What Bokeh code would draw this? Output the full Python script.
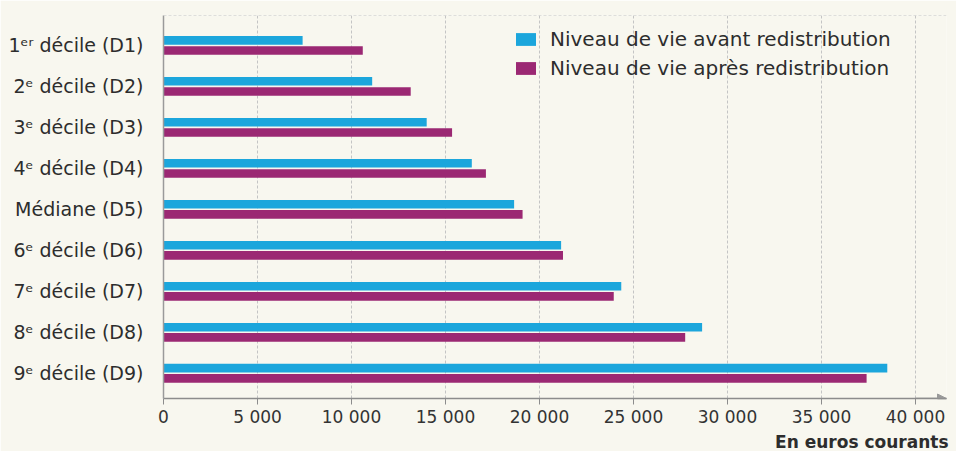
from bokeh.plotting import figure
from bokeh.models import (Range1d, FixedTicker, ColumnDataSource, Span, Arrow,
                          NormalHead, Title)
from bokeh.transform import dodge
from bokeh.embed import file_html
from bokeh.resources import INLINE

# ---- data -------------------------------------------------------------
categories = ["1ᵉʳ décile (D1)", "2ᵉ décile (D2)", "3ᵉ décile (D3)",
              "4ᵉ décile (D4)", "Médiane (D5)", "6ᵉ décile (D6)",
              "7ᵉ décile (D7)", "8ᵉ décile (D8)", "9ᵉ décile (D9)"]
before = [7400, 11100, 14000, 16400, 18650, 21150, 24350, 28650, 38500]
after = [10600, 13150, 15350, 17150, 19100, 21250, 23950, 27750, 37400]
series_names = ["Niveau de vie avant redistribution",
                "Niveau de vie après redistribution"]
tick_values = [0, 5000, 10000, 15000, 20000, 25000, 30000, 35000, 40000]
tick_labels = ["0", "5 000", "10 000", "15 000", "20 000", "25 000",
               "30 000", "35 000", "40 000"]
axis_title = "En euros courants"

# ---- style ------------------------------------------------------------
BG = "#f8f7ef"
BLUE = "#1ca6dc"
PURPLE = "#9b2873"
FONT = "DejaVu Sans"

pos = list(range(len(categories)))
src = ColumnDataSource(dict(y=pos, before=before, after=after))

p = figure(width=956, height=451, output_backend="svg", toolbar_location=None,
           x_range=Range1d(0, 41650), y_range=Range1d(8.616, -0.73),
           min_border_left=163, min_border_right=10, min_border_top=15,
           min_border_bottom=52, background_fill_color=BG,
           border_fill_color=BG, outline_line_color=None)

p.hbar(y=dodge("y", -0.124, range=p.y_range), left=0, right="before",
       height=0.21, source=src, fill_color=BLUE, line_color=None,
       legend_label=series_names[0])
p.hbar(y=dodge("y", 0.124, range=p.y_range), left=0, right="after",
       height=0.21, source=src, fill_color=PURPLE, line_color=None,
       legend_label=series_names[1])

# x axis
xa = p.xaxis[0]
xa.ticker = FixedTicker(ticks=tick_values)
xa.major_label_overrides = {v: l for v, l in zip(tick_values, tick_labels)}
xa.major_label_text_font = FONT
xa.major_label_text_font_size = "17px"
xa.major_label_text_color = "#333333"
xa.axis_line_color = "#8c8c8c"
xa.axis_line_width = 1.5
xa.major_tick_line_color = "#8c8c8c"
xa.major_tick_in = 0
xa.major_tick_out = 6
xa.minor_tick_line_color = None
xa.major_label_standoff = 2

# axis title (below, right aligned)
p.add_layout(Title(text=axis_title, align="right", text_font=FONT,
                   text_font_style="bold", text_font_size="17px",
                   text_color="#2d2d2d", standoff=0, offset=-2), "below")

# y axis
ya = p.yaxis[0]
ya.ticker = FixedTicker(ticks=pos)
ya.major_label_overrides = {i: c for i, c in zip(pos, categories)}
ya.major_label_text_font = FONT
ya.major_label_text_font_size = "19px"
ya.major_label_text_color = "#2d2d2d"
ya.axis_line_color = "#9a9a9a"
ya.axis_line_width = 1.5
ya.major_tick_line_color = None
ya.minor_tick_line_color = None
ya.major_label_standoff = 14

# grid
p.ygrid.grid_line_color = None
p.xgrid.ticker = FixedTicker(ticks=tick_values[1:])
p.xgrid.grid_line_color = "#c4c4c4"
p.xgrid.grid_line_dash = "3 2"

# top dashed border
p.add_layout(Span(location=-0.73, dimension="width", line_color="#c4c4c4",
                  line_dash="3 2", line_width=1))

# arrow on x axis
p.add_layout(Arrow(x_start=40000, y_start=8.616, x_end=41650, y_end=8.616,
                   line_color="#8c8c8c", line_width=1.5,
                   end=NormalHead(size=9, fill_color="#999999",
                                  line_color="#999999")))

# legend
lg = p.legend[0]
lg.location = (350, 318)
lg.background_fill_alpha = 0
lg.border_line_color = None
lg.padding = 0
lg.margin = 0
lg.spacing = 5
lg.glyph_width = 25
lg.glyph_height = 16
lg.label_standoff = 12
lg.label_text_font = FONT
lg.label_text_font_size = "20px"
lg.label_text_color = "#2d2d2d"

open("out.html", "w").write(file_html(p, INLINE))
